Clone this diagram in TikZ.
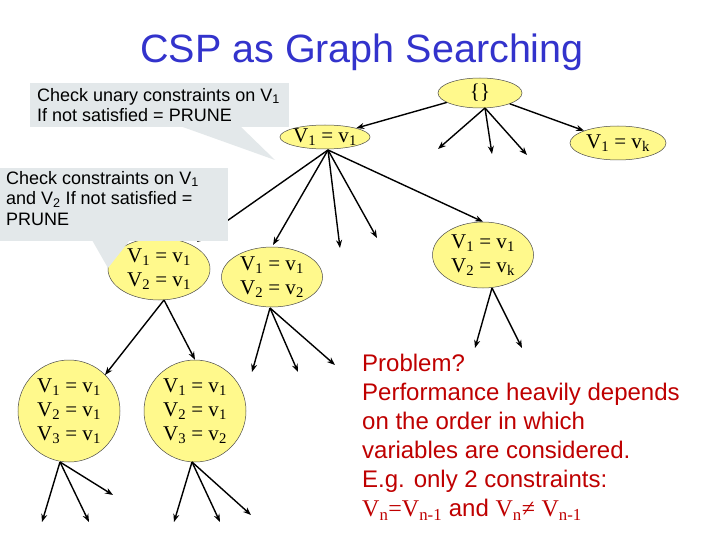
\documentclass[tikz,border=0pt]{standalone}
\usepackage{fontspec}
\setmainfont{Liberation Sans}
\newfontfamily\tms{Liberation Serif}
\usetikzlibrary{shapes.geometric,arrows.meta}
\begin{document}
\begin{tikzpicture}[x=1pt,y=-1pt,
  st/.style={ellipse,draw=black!70,line width=0.5pt,fill=yellow!45,inner sep=0pt,font=\tms\fontsize{21}{24}\selectfont,align=center},
  ar/.style={line width=1.4pt,-{Stealth[length=8pt,width=6pt]}},
  callout/.style={fill=cyan!15!gray!22,draw=none},
  ctext/.style={font=\fontsize{18}{20.5}\selectfont,align=left,anchor=north west,inner sep=0pt}]
\useasboundingbox (0,0) rectangle (720,540);
\fill[white] (0,0) rectangle (720,540);
\node (title) at (362,52) {\fontsize{39.5}{42}\selectfont\color[HTML]{3333CC}CSP as Graph Searching};
\node[st,minimum width=84pt,minimum height=30pt] (root) at (480,93) {\{\}};
\node[st,minimum width=86pt,minimum height=24pt] (n1) at (325,137) {V\textsubscript{1} = v\textsubscript{1}};
\node[st,minimum width=96pt,minimum height=34pt] (nk) at (618,143) {V\textsubscript{1} = v\textsubscript{k}};
\node[st,minimum width=102pt,minimum height=62pt] (n21) at (159,269) {V\textsubscript{1} = v\textsubscript{1}\\V\textsubscript{2} = v\textsubscript{1}};
\node[st,minimum width=101pt,minimum height=60pt] (n22) at (272,277) {V\textsubscript{1} = v\textsubscript{1}\\V\textsubscript{2} = v\textsubscript{2}};
\node[st,minimum width=101pt,minimum height=66pt] (n2k) at (483,255) {V\textsubscript{1} = v\textsubscript{1}\\V\textsubscript{2} = v\textsubscript{k}};
\node[st,minimum width=102pt,minimum height=102pt] (n31) at (69,411) {V\textsubscript{1} = v\textsubscript{1}\\V\textsubscript{2} = v\textsubscript{1}\\V\textsubscript{3} = v\textsubscript{1}};
\node[st,minimum width=102pt,minimum height=102pt] (n32) at (195,411) {V\textsubscript{1} = v\textsubscript{1}\\V\textsubscript{2} = v\textsubscript{1}\\V\textsubscript{3} = v\textsubscript{2}};
\foreach \n/\x/\y in {ra/438/149,rb/492/154,rc/527/155,
  la/273/245,lb/340/248,lc/377/238,
  ka/475/348,kb/522/348,
  va/252/372,vb/298/372,vc/335/365,
  ua/105/375,
  aa/42/522,ab/89/522,ac/113/495,
  ba/174/522,bb/220/522,bc/251/515}
  \coordinate (\n) at (\x,\y);
\coordinate (rs) at (485,108);
\coordinate (ls) at (328,150);
\coordinate (ks) at (492,288);
\coordinate (vs) at (270,308);
\coordinate (us) at (164,300);
\coordinate (as) at (60,462);
\coordinate (bs) at (192,462);
\coordinate (lt) at (197,242);
\draw[ar] (root) -- (n1);
\draw[ar] (root) -- (nk);
\foreach \t in {ra,rb,rc} \draw[ar] (rs) -- (\t);
\foreach \t in {la,lb,lc} \draw[ar] (ls) -- (\t);
\draw[ar] (ls) -- (lt);
\draw[ar] (ls) -- (n2k.north);
\foreach \t in {ka,kb} \draw[ar] (ks) -- (\t);
\foreach \t in {va,vb,vc} \draw[ar] (vs) -- (\t);
\draw[ar] (us) -- (ua);
\draw[ar] (us) -- (n32.north);
\foreach \t in {aa,ab,ac} \draw[ar] (as) -- (\t);
\foreach \t in {ba,bb,bc} \draw[ar] (bs) -- (\t);
% callouts
\fill[callout] (30,83) rectangle (289,127);
\fill[callout] (180,126) -- (275,160) -- (240,126) -- cycle;
\node[ctext] (c1) at (37,88) {Check unary constraints on V\textsubscript{1}\\If not satisfied = PRUNE};
\fill[callout] (0,168) rectangle (228,241);
\fill[callout] (92,240) -- (108,268) -- (130,240) -- cycle;
\node[ctext] (c2) at (6,171) {Check constraints on V\textsubscript{1}\\and V\textsubscript{2} If not satisfied =\\PRUNE};
\node[anchor=north west,inner sep=0pt,align=left,font=\fontsize{24}{29}\selectfont,text=red!75!black] (prob) at (362,354)
 {Problem?\\Performance heavily depends\\on the order in which\\variables are considered.\\E.g. only 2 constraints:\\{\tms V\textsubscript{n}=V\textsubscript{n-1}} and {\tms V\textsubscript{n}}{\tms ≠} {\tms V\textsubscript{n-1}}};
\end{tikzpicture}
\end{document}
